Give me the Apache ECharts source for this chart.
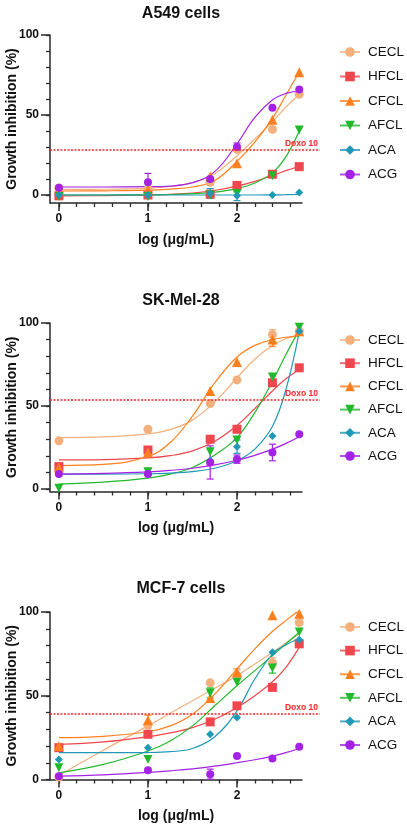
<!DOCTYPE html>
<html>
<head>
<meta charset="utf-8">
<title>Growth inhibition</title>
<script src="https://cdn.jsdelivr.net/npm/echarts@6/dist/echarts.min.js"></script>
<style>
  html, body { margin: 0; padding: 0; background: #fff; }
  #main { width: 407px; height: 827px; }
</style>
</head>
<body>
<div id="main"></div>
<script>
// compounds, in legend order
var compounds = ['CECL', 'HFCL', 'CFCL', 'AFCL', 'ACA', 'ACG'];
var colors = ['#F3B07D', '#F0474E', '#FF7F1F', '#22B82C', '#1F99B6', '#A322E4'];
var symbols = ['circle', 'rect', 'triangle', 'path://M0,0L10,0L5,9Z', 'diamond', 'circle'];
var symbolSizes = [9, 9, 10, 9, 8, 8];

// log(ug/mL) of the tested doses and of the read-off fit curves
var pointX = [0, 1, 1.699, 2, 2.398, 2.699];
var curveX = [0, 0.5, 1, 1.25, 1.5, 1.75, 2, 2.2, 2.4, 2.55, 2.7];

// ticks
var xMajor = [0, 1, 2];
var xMinor = [0, 0.2, 0.4, 0.6, 0.8, 1, 1.2, 1.4, 1.6, 1.8, 2, 2.2, 2.4, 2.6];
var yMajor = [0, 50, 100];
var yMinor = [0, 10, 20, 30, 40, 50, 60, 70, 80, 90, 100];

// A549 cells (rows follow compounds)
var a549Points = [
  [4.4, 3.8, 8, 28.5, 41, 63],
  [-0.5, 0, 0.5, 6, 13, 17.7],
  [3, 3, 11.5, 19.8, 47, 76.7],
  [-1, -1, 0, 1, 12, 40.6],
  [0, 0, 1, -0.5, 0, 1.5],
  [4.5, 8, 10, 30, 54.6, 66]
];
var a549Curves = [
  [3.5, 3.6, 4.2, 5.3, 7.7, 13.3, 24.5, 35, 46, 55, 63],
  [-0.5, -0.4, 0, 0.4, 1.2, 2.8, 5.5, 8.5, 12.3, 15.2, 18],
  [2.5, 2.6, 3, 3.7, 5, 9, 21, 33, 48, 62.5, 77],
  [0, 0, 0.1, 0.3, 0.8, 1.8, 4, 7.5, 14, 24, 40],
  [0, 0, 0, 0, 0, 0, 0, 0, 0.1, 0.2, 0.4],
  [5, 5, 5.2, 5.6, 7.7, 14.6, 32, 48.5, 59.5, 63.5, 65]
];
// [x, mean, sd, compound index]
var a549Err = [[1.699, 8, 2, 0], [2.398, 41, 1.5, 0], [2.699, 17.7, 2, 1], [1.699, 1, 3, 4],
  [2, -0.5, 3, 4], [1, 8, 5.5, 5], [2, 30, 2.5, 5]];
var a549Doxo = 28;

// SK-Mel-28
var skPoints = [
  [29, 36, 51.5, 65.7, 93, 95],
  [13.5, 23.5, 30, 36, 64, 73],
  [13, 22, 59, 76.5, 90, 95],
  [0.5, 10.4, 22.5, 29.5, 67.4, 97.5],
  [9, 9, 17, 25.5, 32, 95],
  [9, 9, 16, 18, 22, 33]
];
var skCurves = [
  [31, 31.4, 33.2, 35.8, 41.5, 52.4, 67, 78.2, 86.5, 90.5, 93],
  [17.5, 17.7, 18.7, 20.1, 23, 28.8, 38.3, 48.5, 59.2, 66.4, 72.2],
  [14.1, 14.8, 19.6, 28, 43.9, 64, 79.5, 86.5, 90, 91.4, 92.1],
  [3, 4.2, 6.6, 9, 13, 20.5, 31, 46, 65, 81, 96],
  [9, 9, 9.2, 9.6, 10.5, 12.5, 17, 24, 38, 60, 95],
  [9, 9.4, 10.3, 11.2, 12.5, 14.5, 17.3, 20.3, 24, 27.5, 31.5]
];
var skErr = [[2.398, 93, 3, 0], [1, 23.5, 2, 1], [2.398, 90, 4, 2], [1, 10.4, 2, 3],
  [2, 25.5, 4, 4], [1.699, 16, 10, 5], [2, 18, 2.5, 5], [2.398, 22, 5, 5]];
var skDoxo = 53.6;

// MCF-7 cells
var mcfPoints = [
  [1.5, 32.4, 57.7, 62, 69.6, 93.7],
  [19, 27, 34.4, 44, 55, 81],
  [20, 35.4, 48.7, 64, 98, 99],
  [7, 12, 51.7, 58, 66.5, 88],
  [12, 19, 27, 37, 76, 83.5],
  [2, 5.5, 3.2, 14, 12.5, 19.5]
];
var mcfCurves = [
  [2.5, 17.5, 32, 39.5, 47, 54.5, 62, 69, 76, 81.5, 87],
  [21, 22.5, 25.5, 27.8, 31, 36, 43, 50, 58.5, 67, 79],
  [25, 25.8, 28.5, 32, 39, 51, 66, 78, 88.5, 95, 101],
  [4, 9, 17, 23, 32, 44, 56, 65, 74, 81, 88],
  [16, 16, 16.1, 16.6, 18.5, 25.5, 41, 60, 75, 80.5, 84],
  [2, 2.8, 4.2, 5.2, 6.4, 8, 10, 11.8, 14, 16, 18.5]
];
var mcfErr = [[1, 35.4, 3, 2], [1.699, 51.7, 3, 3], [2.398, 69.6, 3, 0], [2.398, 66.5, 3, 3],
  [1.699, 3.2, 3, 5], [2, 64, 2, 2]];
var mcfDoxo = 39;

var panels = [
  { title: 'A549 cells', points: a549Points, curves: a549Curves, err: a549Err, doxo: a549Doxo, yMin: -5 },
  { title: 'SK-Mel-28', points: skPoints, curves: skCurves, err: skErr, doxo: skDoxo, yMin: -1.5 },
  { title: 'MCF-7 cells', points: mcfPoints, curves: mcfCurves, err: mcfErr, doxo: mcfDoxo, yMin: 0 }
];

// layout
var gridTops = [35, 323, 612];
var gridHeights = [168, 168.5, 167.5];
var titleTops = [1, 288, 576];
var legendTops = [40, 328, 615];
var legendGaps = [10.5, 9.2, 9.6];
var FONT = '"Liberation Sans", Arial, sans-serif';
var AXIS_COLOR = '#2a2a2a';

var grids = [], xAxes = [], yAxes = [], series = [], titles = [], legends = [];

function errorBars(params, api) {
  var x = api.value(0), y = api.value(1), e = api.value(2);
  var c = colors[api.value(3)];
  var top = api.coord([x, y + e]);
  var bot = api.coord([x, y - e]);
  var w = 3.5;
  var st = { stroke: c, lineWidth: 1.2 };
  return {
    type: 'group',
    children: [
      { type: 'line', shape: { x1: top[0], y1: top[1], x2: bot[0], y2: bot[1] }, style: st },
      { type: 'line', shape: { x1: top[0] - w, y1: top[1], x2: top[0] + w, y2: top[1] }, style: st },
      { type: 'line', shape: { x1: bot[0] - w, y1: bot[1], x2: bot[0] + w, y2: bot[1] }, style: st }
    ]
  };
}

panels.forEach(function (p, i) {
  grids.push({ left: 50, top: gridTops[i], width: 252, height: gridHeights[i], containLabel: false, outerBoundsMode: 'none' });
  grids.push({ left: 50, top: gridTops[i], width: 270, height: gridHeights[i], containLabel: false, outerBoundsMode: 'none' });
  var g = i * 2, ax = i * 3;

  // x axes: labelled major, minor ticks, hidden overlay
  xAxes.push({
    type: 'value', gridIndex: g, position: 'bottom', min: -0.1, max: 2.73,
    name: 'log (μg/mL)', nameLocation: 'middle', nameGap: 30, nameMoveOverlap: false,
    nameTextStyle: { fontFamily: FONT, fontWeight: 'bold', fontSize: 14, color: '#111' },
    axisLine: { onZero: false, lineStyle: { color: AXIS_COLOR, width: 1.5 } },
    axisTick: { customValues: xMajor, length: 8, lineStyle: { color: AXIS_COLOR, width: 1.5 } },
    axisLabel: { customValues: xMajor, margin: 10, fontFamily: FONT, fontWeight: 'bold', fontSize: 12, color: '#111' },
    splitLine: { show: false }
  });
  xAxes.push({
    type: 'value', gridIndex: g, position: 'bottom', min: -0.1, max: 2.73,
    axisLine: { show: false, onZero: false },
    axisTick: { customValues: xMinor, length: 4, lineStyle: { color: AXIS_COLOR, width: 1.3 } },
    axisLabel: { show: false }, splitLine: { show: false }
  });
  xAxes.push({ type: 'value', gridIndex: g + 1, min: 0, max: 1, show: false });

  yAxes.push({
    type: 'value', gridIndex: g, position: 'left', min: p.yMin, max: 100,
    name: 'Growth inhibition (%)', nameLocation: 'middle', nameGap: 31, nameMoveOverlap: false,
    nameTextStyle: { fontFamily: FONT, fontWeight: 'bold', fontSize: 14, color: '#111' },
    axisLine: { onZero: false, lineStyle: { color: AXIS_COLOR, width: 1.5 } },
    axisTick: { customValues: yMajor, length: 9, lineStyle: { color: AXIS_COLOR, width: 1.5 } },
    axisLabel: { customValues: yMajor, margin: 11, fontFamily: FONT, fontWeight: 'bold', fontSize: 12, color: '#111' },
    splitLine: { show: false }
  });
  yAxes.push({
    type: 'value', gridIndex: g, position: 'left', min: p.yMin, max: 100,
    axisLine: { show: false, onZero: false },
    axisTick: { customValues: yMinor, length: 4, lineStyle: { color: AXIS_COLOR, width: 1.3 } },
    axisLabel: { show: false }, splitLine: { show: false }
  });
  yAxes.push({ type: 'value', gridIndex: g + 1, min: p.yMin, max: 100, show: false });

  titles.push({
    text: p.title, left: 176, top: titleTops[i], textAlign: 'center',
    textStyle: { fontFamily: FONT, fontWeight: 'bold', fontSize: 16, color: '#111' }
  });

  legends.push({
    data: compounds, orient: 'vertical', left: 334, top: legendTops[i],
    itemWidth: 20, itemHeight: 12, itemGap: legendGaps[i], selectedMode: false,
    lineStyle: { width: 2, opacity: 0.8 },
    textStyle: { fontFamily: FONT, fontSize: 13.5, color: '#111', lineHeight: 14, padding: [0, 0, 0, 3] }
  });

  // Doxo 10 reference line
  series.push({
    type: 'line', xAxisIndex: ax + 2, yAxisIndex: ax + 2, data: [], silent: true,
    markLine: {
      silent: true, symbol: 'none', animation: false,
      lineStyle: { color: '#FF2626', type: [2, 1.5], width: 1.5 },
      label: {
        position: 'insideEndTop', formatter: 'Doxo 10', distance: 2,
        color: '#FF2626', fontFamily: FONT, fontWeight: 'bold', fontSize: 8.5
      },
      data: [{ yAxis: p.doxo }]
    }
  });

  // fit curves first so legend icons take line + marker
  compounds.forEach(function (name, c) {
    series.push({
      name: name, type: 'line', xAxisIndex: ax, yAxisIndex: ax,
      data: curveX.map(function (x, k) { return [x, p.curves[c][k]]; }),
      smooth: 0.4, showSymbol: false,
      symbol: symbols[c], symbolSize: symbolSizes[c],
      lineStyle: { color: colors[c], width: 1.2 },
      itemStyle: { color: colors[c] },
      z: 2, silent: true
    });
  });
  series.push({
    type: 'custom', xAxisIndex: ax, yAxisIndex: ax,
    renderItem: errorBars, data: p.err, encode: { x: 0, y: 1 }, z: 3, silent: true
  });
  compounds.forEach(function (name, c) {
    series.push({
      name: name, type: 'scatter', xAxisIndex: ax, yAxisIndex: ax,
      data: pointX.map(function (x, k) { return [x, p.points[c][k]]; }),
      symbol: symbols[c], symbolSize: symbolSizes[c],
      itemStyle: { color: colors[c], opacity: 1 },
      z: 4, silent: true
    });
  });
});

var chart = echarts.init(document.getElementById('main'));
chart.setOption({
  animation: false,
  backgroundColor: '#fff',
  title: titles,
  legend: legends,
  grid: grids,
  xAxis: xAxes,
  yAxis: yAxes,
  series: series
});
</script>
</body>
</html>
